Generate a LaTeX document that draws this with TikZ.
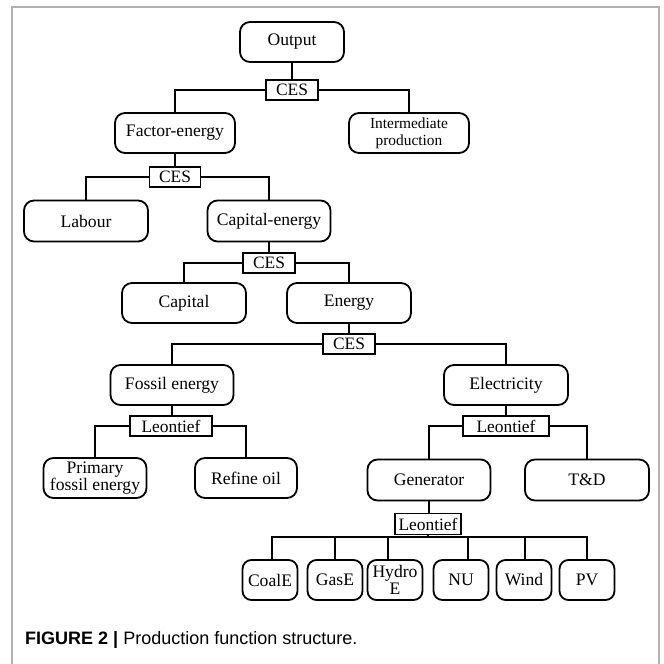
\documentclass[tikz,border=0pt]{standalone}
\usepackage{fontspec}
\setmainfont{Liberation Serif}
\newfontfamily\capfont{Liberation Sans}

\begin{document}
\begin{tikzpicture}[x=1pt,y=-1pt]
	
	\tikzset{
		block/.style={draw,line width=1.8pt,rounded corners=10pt,minimum width=123pt,
			minimum height=40pt,inner sep=0pt,align=center,font=\fontsize{17.6}{17}\selectfont},
		fn/.style={draw,line width=1.8pt,minimum height=20pt,inner sep=0pt,
			font=\fontsize{17.4}{17}\selectfont},
		link/.style={line width=1.3pt},
		frame/.style={line width=2pt,color=black!30},
	}
	
	% Macro: one nest with a function box and two inputs
	% Arguments: parent node, function node, left input, right input
	\newcommand{\Nest}[4]{%
		\draw[link] (#1.south) -- (#1.south |- #2.north);
		\draw[link] (#2.west) -| (#3.north);
		\draw[link] (#2.east) -| (#4.north);
	}
	
	\useasboundingbox (0,0) rectangle (664,664);
	
	% Frame (open at the bottom)
	\draw[frame] (12,664) |- (659,7) -- (659,664);
	
	%========================================
	% Top level
	%========================================
	\node[block,minimum width=104pt] (output) at (292,42) {Output};
	\node[fn,minimum width=52pt] (ces1) at (292,90) {CES};
	\node[block,minimum width=120pt] (factor) at (175,133) {Factor-energy};
	\node[block,minimum width=120pt,font=\fontsize{15.4}{17}\selectfont] (inter) at (409,133)
	{Intermediate\\production};
	\Nest{output}{ces1}{factor}{inter}
	
	%========================================
	% Labour / capital-energy
	%========================================
	\node[fn,minimum width=51pt] (ces2) at (175,177) {CES};
	\node[block,minimum width=124pt,minimum height=41pt] (labour) at (86,221) {Labour};
	\node[block,minimum width=123pt,minimum height=41pt] (capen) at (269,221) {Capital-energy};
	\Nest{factor}{ces2}{labour}{capen}
	
	%========================================
	% Capital / energy
	%========================================
	\node[fn,minimum width=52pt] (ces3) at (269,263) {CES};
	\node[block,minimum width=124pt] (capital) at (184,303) {Capital};
	\node[block,minimum width=124pt] (energy) at (349,303) {Energy};
	\Nest{capen}{ces3}{capital}{energy}
	
	%========================================
	% Fossil energy / electricity
	%========================================
	\node[fn,minimum width=52pt] (ces4) at (349,344) {CES};
	\node[block] (fossil) at (172,385) {Fossil energy};
	\node[block,minimum width=124pt] (elec) at (506,385) {Electricity};
	\Nest{energy}{ces4}{fossil}{elec}
	
	% Fossil energy branch
	\node[fn,minimum width=82pt] (leo1) at (171,426) {Leontief};
	\node[block,minimum width=103pt] (primary) at (95,478) {Primary\\fossil energy};
	\node[block,minimum width=102pt] (refine) at (246,478) {Refine oil};
	\Nest{fossil}{leo1}{primary}{refine}
	
	% Electricity branch
	\node[fn,minimum width=86pt] (leo2) at (506,426) {Leontief};
	\node[block,minimum height=41pt] (gen) at (429,480) {Generator};
	\node[block,minimum width=124pt,minimum height=41pt] (td) at (587,480) {T\&D};
	\Nest{elec}{leo2}{gen}{td}
	
	%========================================
	% Generation technologies
	%========================================
	\node[fn,minimum width=66pt,minimum height=21pt] (leo3) at (428,524) {Leontief};
	\draw[link] (gen.south) -- (gen.south |- leo3.north);
	\coordinate (bus) at (428,537);
	\draw[link] (leo3.south) -- (bus);
	
	\foreach \name/\txt/\xx/\dx in {coal/CoalE/270/2, gas/GasE/335/0, hydro/{Hydro\\E}/395/-7,
		nu/NU/461/7, wind/Wind/524/1, pv/PV/587/0}{
		\node[block,minimum width=55pt,rounded corners=9pt] (\name) at (\xx,580) {\txt};
		\draw[link] (bus) -| ([xshift=\dx pt]\name.north);
	}
	
	% Caption
	\node[anchor=base west,inner sep=0pt,font=\capfont\fontsize{18}{20}\selectfont] (caption)
	at (25,644) {\textbf{FIGURE 2 |} Production function structure.};
	
\end{tikzpicture}
\end{document}
